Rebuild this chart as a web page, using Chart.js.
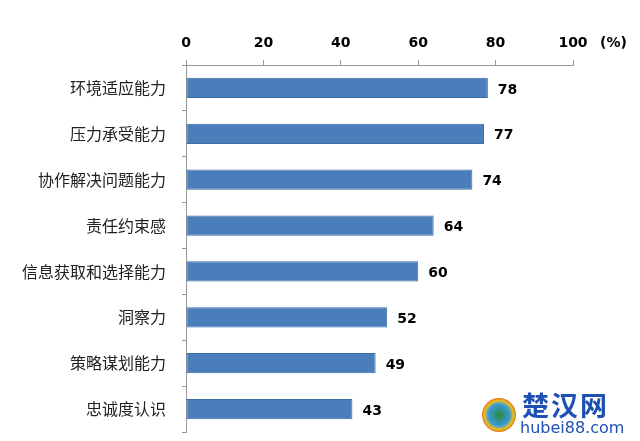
<!DOCTYPE html>
<html>
<head>
<meta charset="utf-8">
<script src="https://cdn.jsdelivr.net/npm/chart.js@4"></script>
<style>
html,body{margin:0;padding:0;background:#fff;}
#wrap{position:relative;width:640px;height:441px;}
#wm1{position:absolute;left:522px;top:390px;font:bold 27px "Noto Sans CJK SC";color:#1e50b4;letter-spacing:2px;line-height:30px;}
#wm2{position:absolute;left:520px;top:419px;font:16px "DejaVu Sans";color:#1e50b4;line-height:18px;}
#logo{position:absolute;left:482px;top:398px;width:34px;height:34px;border-radius:50%;background:radial-gradient(circle at 50% 50%,#2a8a3a 0,#3a9ad8 45%,#e8c020 60%,#d83020 80%,#fff 100%);}
</style>
</head>
<body>
<div id="wrap">
<canvas id="c" width="640" height="441"></canvas>
<div id="logo"></div>
<div id="wm1">楚汉网</div>
<div id="wm2">hubei88.com</div>
</div>
<script>
const categories = ["环境适应能力","压力承受能力","协作解决问题能力","责任约束感","信息获取和选择能力","洞察力","策略谋划能力","忠诚度认识"];
const values = [78, 77, 74, 64, 60, 52, 49, 43];
const xTicks = [0, 20, 40, 60, 80, 100];
const unitLabel = "(%)";

const numFont = {family: "DejaVu Sans", size: 14, weight: "bold"};

const labelPlugin = {
  id: "labels",
  afterDatasetsDraw(chart) {
    const ctx = chart.ctx;
    const meta = chart.getDatasetMeta(0);
    ctx.save();
    ctx.font = "bold 14px 'DejaVu Sans'";
    ctx.fillStyle = "#000";
    ctx.textAlign = "left";
    ctx.textBaseline = "middle";
    meta.data.forEach((bar, i) => {
      ctx.fillText(String(values[i]), bar.x + 10, bar.y + 2);
    });
    const xs = chart.scales.x;
    ctx.fillText(unitLabel, xs.getPixelForValue(100) + 27, 43);
    ctx.restore();
  }
};

new Chart(document.getElementById("c"), {
  type: "bar",
  data: {
    labels: categories,
    datasets: [{
      data: values,
      backgroundColor: "#4a7ebb",
      borderColor: "#3c6ea6",
      borderWidth: 1,
      borderSkipped: false,
      barPercentage: 0.44,
      categoryPercentage: 1
    }]
  },
  options: {
    indexAxis: "y",
    responsive: false,
    animation: false,
    devicePixelRatio: 1,
    layout: {padding: {left: 0, right: 67, top: 0, bottom: 9}},
    plugins: {legend: {display: false}, tooltip: {enabled: false}},
    scales: {
      x: {
        position: "top",
        min: 0, max: 100,
        afterBuildTicks(s) { s.ticks = xTicks.map(v => ({value: v})); },
        afterFit(s) { s.height = 65; s.paddingLeft = 0; s.paddingRight = 0; },
        ticks: {font: numFont, color: "#000", padding: 8, maxRotation: 0},
        grid: {display: true, drawOnChartArea: false, tickLength: 5, color: "#999"},
        border: {display: true, color: "#999"}
      },
      y: {
        afterFit(s) { s.width = 186; s.paddingTop = 0; s.paddingBottom = 0; },
        ticks: {font: {family: "Noto Sans CJK SC", size: 16}, color: "#222", padding: 16},
        grid: {display: true, drawOnChartArea: false, tickLength: 4, offset: true, color: "#999"},
        border: {display: true, color: "#999"}
      }
    }
  },
  plugins: [labelPlugin]
});
</script>
</body>
</html>
